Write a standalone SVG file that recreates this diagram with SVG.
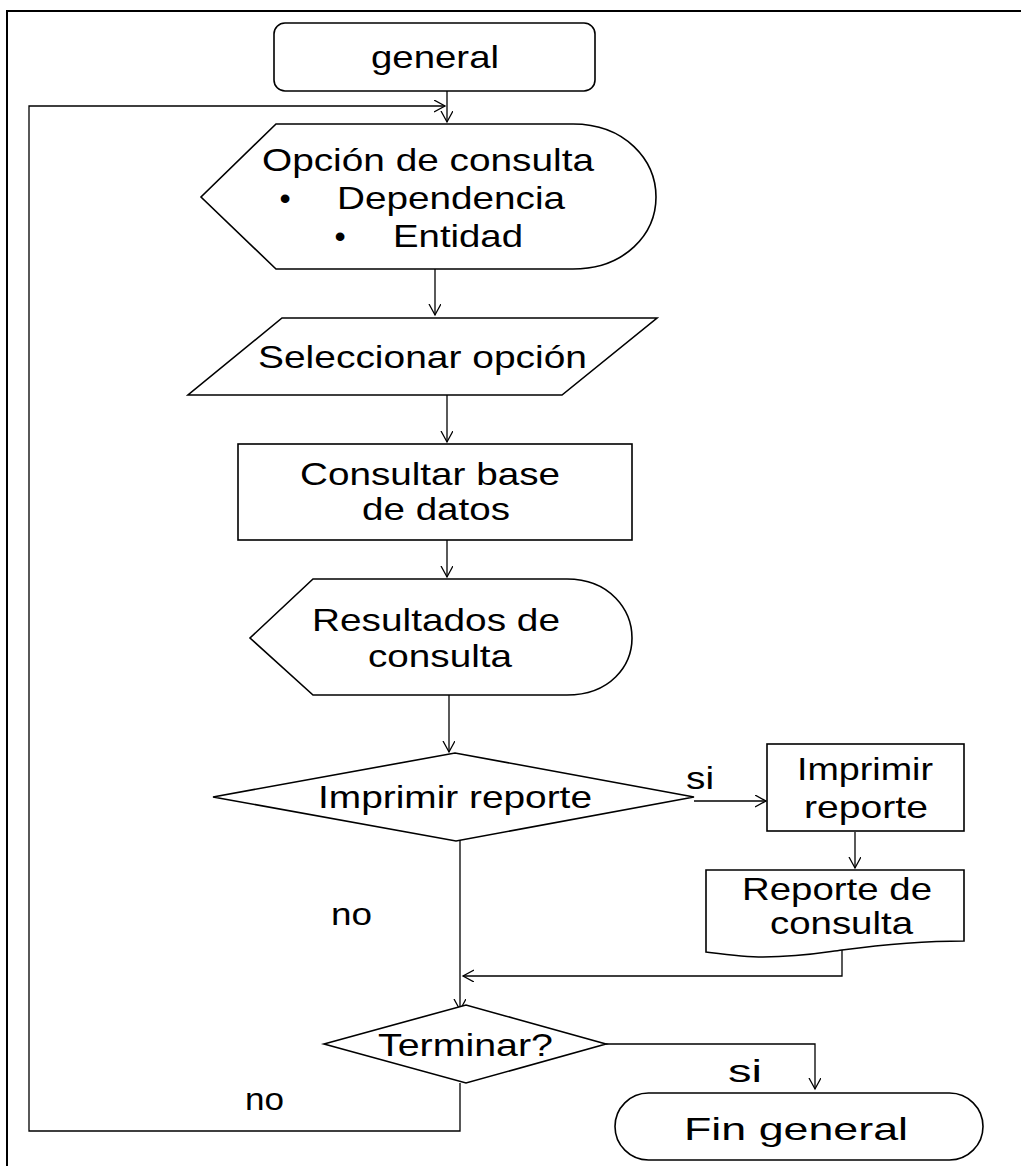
<svg xmlns="http://www.w3.org/2000/svg" width="1021" height="1166" viewBox="0 0 1021 1166">
<defs>
<marker id="arr" markerUnits="userSpaceOnUse" markerWidth="14" markerHeight="14" refX="11" refY="6" orient="auto">
<path d="M0,0 L11,6 L0,12" fill="none" stroke="#000" stroke-width="1.3"/>
</marker>
</defs>
<style>
.s{fill:#fff;stroke:#000;stroke-width:1.6}
.c{fill:none;stroke:#000;stroke-width:1.3}
.t{font-family:"Liberation Sans",Arial,sans-serif;font-size:32px;fill:#000}
</style>
<rect width="1021" height="1166" fill="#fff"/>
<g id="frame"><path d="M7,1166 L7,11 L1021,11" fill="none" stroke="#000" stroke-width="2"/></g>
<g id="connectors">
<path class="c" d="M447,91 L447,122" marker-end="url(#arr)"/>
<path class="c" d="M460,1083 L460,1131 L29,1131 L29,106 L445,106" marker-end="url(#arr)"/>
<path class="c" d="M435,269 L435,315" marker-end="url(#arr)"/>
<path class="c" d="M447,395 L447,442" marker-end="url(#arr)"/>
<path class="c" d="M447,540 L447,577" marker-end="url(#arr)"/>
<path class="c" d="M449,695 L449,752" marker-end="url(#arr)"/>
<path class="c" d="M694,801 L766,801" marker-end="url(#arr)"/>
<path class="c" d="M855,832 L855,868" marker-end="url(#arr)"/>
<path class="c" d="M842,950 L842,976 L463,976" marker-end="url(#arr)"/>
<path class="c" d="M460,822 L460,1010" marker-end="url(#arr)"/>
<path class="c" d="M606,1044 L815,1044 L815,1089" marker-end="url(#arr)"/>
</g>
<g id="n-general">
<rect class="s" x="274" y="23" width="321" height="68" rx="11"/>
<text class="t" x="371" y="68" textLength="128" lengthAdjust="spacingAndGlyphs">general</text>
</g>
<g id="n-opcion">
<path class="s" d="M276,124 L573,124 C625,124 656,160 656,197 C656,234 625,269 573,269 L276,269 L201,197 Z"/>
<text class="t" x="262" y="171" textLength="332" lengthAdjust="spacingAndGlyphs">Opción de consulta</text>
<text class="t" x="285" y="209" text-anchor="middle">•</text>
<text class="t" x="337" y="209" textLength="228" lengthAdjust="spacingAndGlyphs">Dependencia</text>
<text class="t" x="340" y="247" text-anchor="middle">•</text>
<text class="t" x="393" y="247" textLength="130" lengthAdjust="spacingAndGlyphs">Entidad</text>
</g>
<g id="n-seleccionar">
<path class="s" d="M282,318 L657,318 L562,395 L188,395 Z"/>
<text class="t" x="258" y="368" textLength="329" lengthAdjust="spacingAndGlyphs">Seleccionar opción</text>
</g>
<g id="n-consultar">
<rect class="s" x="238" y="444" width="394" height="96"/>
<text class="t" x="300" y="485" textLength="260" lengthAdjust="spacingAndGlyphs">Consultar base</text>
<text class="t" x="362" y="520" textLength="148" lengthAdjust="spacingAndGlyphs">de datos</text>
</g>
<g id="n-resultados">
<path class="s" d="M313,579 L567,579 C610,579 632,610 632,638 C632,666 610,695 567,695 L313,695 L250,638 Z"/>
<text class="t" x="312" y="631" textLength="248" lengthAdjust="spacingAndGlyphs">Resultados de</text>
<text class="t" x="368" y="667" textLength="144" lengthAdjust="spacingAndGlyphs">consulta</text>
</g>
<g id="n-imprimir-dec">
<path class="s" d="M213,797 L455,753 L694,797 L456,841 Z"/>
<text class="t" x="318" y="808" textLength="274" lengthAdjust="spacingAndGlyphs">Imprimir reporte</text>
</g>
<g id="n-imprimir">
<rect class="s" x="767" y="744" width="197" height="87"/>
<text class="t" x="797" y="780" textLength="136" lengthAdjust="spacingAndGlyphs">Imprimir</text>
<text class="t" x="804" y="818" textLength="124" lengthAdjust="spacingAndGlyphs">reporte</text>
</g>
<g id="n-reporte">
<path class="s" d="M706,870 L964,870 L964,941 C930,941 880,945 842,950 C820,953 800,957 763,957 C745,957 730,955 706,952 Z"/>
<text class="t" x="742" y="900" textLength="190" lengthAdjust="spacingAndGlyphs">Reporte de</text>
<text class="t" x="770" y="934" textLength="143" lengthAdjust="spacingAndGlyphs">consulta</text>
</g>
<g id="n-terminar">
<path class="s" d="M324,1044 L466,1005 L606,1044 L466,1083 Z"/>
<text class="t" x="378" y="1056" textLength="175" lengthAdjust="spacingAndGlyphs">Terminar?</text>
</g>
<g id="n-fin">
<rect class="s" x="615" y="1093" width="368" height="67" rx="33.5"/>
<text class="t" x="684" y="1140" textLength="224" lengthAdjust="spacingAndGlyphs">Fin general</text>
</g>
<g id="labels">
<text class="t" x="686" y="789" textLength="28" lengthAdjust="spacingAndGlyphs">si</text>
<text class="t" x="331" y="925" textLength="41" lengthAdjust="spacingAndGlyphs">no</text>
<text class="t" x="728" y="1082" textLength="34" lengthAdjust="spacingAndGlyphs">si</text>
<text class="t" x="245" y="1110" textLength="39" lengthAdjust="spacingAndGlyphs">no</text>
</g>
</svg>
